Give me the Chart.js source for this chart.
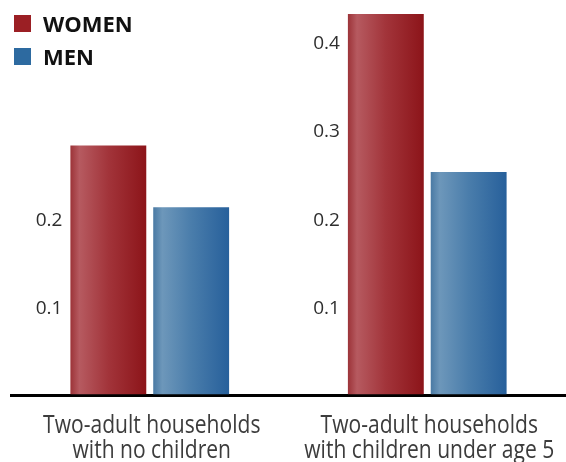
<!DOCTYPE html>
<html>
<head>
<meta charset="utf-8">
<script src="https://cdn.jsdelivr.net/npm/chart.js@4/dist/chart.umd.min.js"></script>
<style>
  html, body { margin: 0; padding: 0; background: #fff; }
  #wrap { width: 566px; height: 462px; position: relative; }
</style>
</head>
<body>
<div id="wrap"><canvas id="chart"></canvas></div>
<script>
const categories = [
  ['Two-adult households', 'with no children'],
  ['Two-adult households', 'with children under age 5'],
]
const women = [0.283, 0.432]
const men = [0.213, 0.253]
// each group only labels the gridlines that its own bars reach
const groupTicks = [
  [0.1, 0.2],
  [0.1, 0.2, 0.3, 0.4],
]

const stops = {
  WOMEN: [[0, '#9c3338'], [0.12, '#b65a60'], [0.5, '#a2343a'], [1, '#8c1419']],
  MEN: [[0, '#4a7aa4'], [0.12, '#6d97ba'], [0.5, '#4a7dab'], [1, '#27609b']],
}
const solid = { WOMEN: '#9b1f24', MEN: '#2d6aa0' }

const gradientBars = {
  id: 'gradientBars',
  beforeDatasetsDraw(chart) {
    const ctx = chart.ctx
    chart.data.datasets.forEach((ds, i) => {
      chart.getDatasetMeta(i).data.forEach((bar) => {
        const { x, width } = bar.getProps(['x', 'width'], true)
        const g = ctx.createLinearGradient(x - width / 2, 0, x + width / 2, 0)
        stops[ds.label].forEach(([o, c]) => g.addColorStop(o, c))
        bar.options.backgroundColor = g
      })
    })
  },
}

const groupLabels = {
  id: 'groupLabels',
  afterDraw(chart) {
    const ctx = chart.ctx
    const xs = chart.scales.x
    const y = chart.scales.y
    const first = chart.getDatasetMeta(0).data
    ctx.save()
    ctx.font = '19px "Open Sans"'
    ctx.fillStyle = '#2e2e2e'
    ctx.textAlign = 'right'
    ctx.textBaseline = 'middle'
    groupTicks.forEach((ticks, g) => {
      const { x, width } = first[g].getProps(['x', 'width'], true)
      ticks.forEach((v) => ctx.fillText(v.toFixed(1), x - width / 2 - 8, y.getPixelForValue(v) + 1.5))
    })

    // category labels: a narrow humanist face, squeezed sideways
    ctx.textAlign = 'center'
    ctx.textBaseline = 'alphabetic'
    ctx.font = '26px "Open Sans"'
    ctx.fillStyle = '#3c3c3c'
    categories.forEach((lines, i) => {
      const cx = xs.getPixelForValue(i) + 2
      lines.forEach((line, j) => {
        ctx.save()
        ctx.translate(cx, xs.top + 38 + j * 25)
        ctx.scale(0.81, 1)
        ctx.fillText(line, 0, 0)
        ctx.restore()
      })
    })

    // legend, stacked in the top-left corner over the plot
    ctx.textAlign = 'left'
    ctx.font = 'bold 22px "Open Sans"'
    chart.data.datasets.forEach((ds, i) => {
      const top = 15 + i * 33
      ctx.fillStyle = solid[ds.label]
      ctx.fillRect(14, top, 17, 17)
      ctx.fillStyle = '#111'
      ctx.fillText(ds.label, 43, top + 16.5)
    })
    ctx.restore()
  },
}

new Chart(document.getElementById('chart'), {
  type: 'bar',
  data: {
    labels: categories,
    datasets: [
      { label: 'WOMEN', data: women, backgroundColor: () => solid.WOMEN },
      { label: 'MEN', data: men, backgroundColor: () => solid.MEN },
    ],
  },
  options: {
    responsive: true,
    maintainAspectRatio: false,
    animation: false,
    categoryPercentage: 0.597,
    barPercentage: 0.916,
    layout: { padding: { left: 11, right: 0, top: 0, bottom: 67 } },
    plugins: {
      legend: { display: false },
      tooltip: { enabled: false },
    },
    scales: {
      x: {
        z: 2,
        grid: { display: false, drawTicks: false },
        border: { display: true, color: '#000', width: 3 },
        ticks: { display: false },
      },
      y: {
        z: 1,
        min: 0,
        max: 0.448,
        grid: {
          drawTicks: false,
          lineWidth: 1.5,
          color: (c) => (c.tick.value > 0 && Math.abs(c.tick.value * 10 - Math.round(c.tick.value * 10)) < 1e-6 ? 'rgba(255,255,255,0.7)' : 'rgba(0,0,0,0)'),
        },
        border: { display: false },
        ticks: { display: false, stepSize: 0.1 },
      },
    },
  },
  plugins: [gradientBars, groupLabels],
})
</script>
</body>
</html>
